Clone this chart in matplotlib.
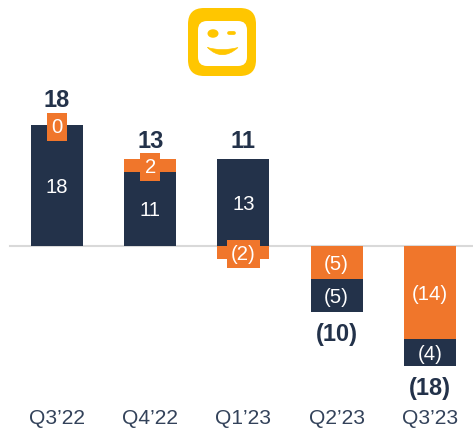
import numpy as np
import matplotlib
matplotlib.use("Agg")
import matplotlib.pyplot as plt
from matplotlib.patches import FancyBboxPatch, Ellipse, PathPatch
from matplotlib.path import Path

plt.rcParams['font.family'] = ['Liberation Sans', 'DejaVu Sans']

quarters = ["Q3\u201922", "Q4\u201922", "Q1\u201923", "Q2\u201923", "Q3\u201923"]
navy_vals = [18, 11, 13, -5, -4]
orange_vals = [0, 2, -2, -5, -14]
totals = ["18", "13", "11", "(10)", "(18)"]

NAVY = "#23324A"
ORANGE = "#F0762B"
YELLOW = "#FFC600"

W, H = 473, 429
fig = plt.figure(figsize=(W/100, H/100), dpi=100)
ax = fig.add_axes([0, 0, 1, 1])
ax.set_xlim(-57/93.2, (W-57)/93.2)
ax.set_ylim(-(H-245.5)/6.68, 245.5/6.68)
ax.axis("off")

x = np.arange(len(quarters))
navy = np.array(navy_vals)
orange = np.array(orange_vals)

# negative quarters stack orange first, Q1'23 has navy up and orange down
navy_bottom = np.where(navy < 0, orange, 0)
orange_bottom = np.where(orange > 0, navy, 0)
orange_bottom[0] = navy[0]
ax.bar(x, navy, 0.558, bottom=navy_bottom, color=NAVY, zorder=2)
ax.bar(x, orange, 0.558, bottom=orange_bottom, color=ORANGE, zorder=2)
ax.plot([10/93.2-57/93.2, (W-57)/93.2], [0, 0], color="#D9D9D9", lw=1.5, zorder=1)

# segment labels
for i in range(len(x)):
    txt = lambda v: "(%d)" % abs(v) if v < 0 else "%d" % v
    ax.annotate(txt(navy[i]), (x[i], navy_bottom[i]+navy[i]/2), xytext=(0, -2), textcoords="offset pixels",
                ha="center", va="center", color="white", fontsize=14.6, zorder=4)
    boxed = abs(orange[i]) <= 2
    box = dict(boxstyle="square,pad=0.22", fc=ORANGE, ec="none") if boxed else None
    ax.annotate(txt(orange[i]), (x[i], orange_bottom[i]+orange[i]/2), xytext=(0, -2), textcoords="offset pixels",
                ha="center", va="center", color="white", fontsize=14.6, bbox=box, zorder=4)

# totals
total_gap = [25, 17.5, 17.5, 22.5, 23]
for i in range(len(x)):
    end = min(navy_bottom[i]+navy[i], orange_bottom[i]+orange[i]) if navy[i] < 0 else navy_bottom[i]+navy[i]+max(orange[i], 0)
    sign = -1 if navy[i] < 0 else 1
    ax.annotate(totals[i], (x[i], end), xytext=(0, sign*total_gap[i]), textcoords="offset pixels",
                ha="center", va="center", color=NAVY, fontsize=17, fontweight="bold", zorder=4)

# quarter labels
for i in range(len(x)):
    ax.annotate(quarters[i], (x[i], 0), xytext=(0, 245.5-418), textcoords="offset pixels",
                ha="center", va="center", color="#33425A", fontsize=15.1)

# logo, drawn in pixel coords
lg = fig.add_axes([0, 0, 1, 1])
lg.set_xlim(0, W)
lg.set_ylim(H, 0)
lg.axis("off")
lg.patch.set_alpha(0)
lg.add_patch(FancyBboxPatch((202, 22), 40, 40, boxstyle="round,pad=14,rounding_size=16", fc=YELLOW, ec="none"))
lg.add_patch(FancyBboxPatch((206, 29), 33, 29, boxstyle="round,pad=8,rounding_size=9", fc="white", ec="none"))
lg.add_patch(Ellipse((213, 33.5), 11, 8.5, fc=YELLOW, ec="none"))
lg.plot([228.5, 234], [33, 33], color=YELLOW, lw=2.7, solid_capstyle="round")
smile = Path([(207.5, 47.5), (222, 62), (238, 47.5), (222, 52), (207.5, 47.5)],
             [Path.MOVETO, Path.CURVE3, Path.CURVE3, Path.CURVE3, Path.CURVE3])
lg.add_patch(PathPatch(smile, fc=YELLOW, ec=YELLOW, lw=0.5))

fig.savefig("out.png", dpi=100)
